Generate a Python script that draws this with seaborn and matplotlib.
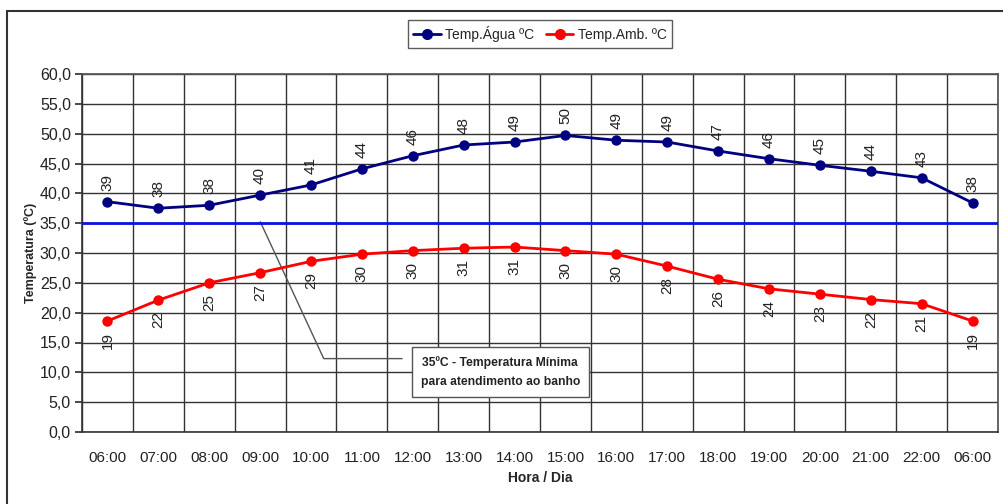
import matplotlib
matplotlib.use("Agg")
import matplotlib.pyplot as plt
import seaborn as sns
import pandas as pd
import numpy as np
from matplotlib.patches import Rectangle
from matplotlib.lines import Line2D

horas = ["06:00", "07:00", "08:00", "09:00", "10:00", "11:00", "12:00", "13:00", "14:00",
         "15:00", "16:00", "17:00", "18:00", "19:00", "20:00", "21:00", "22:00", "06:00"]
agua = [38.6, 37.5, 38.0, 39.7, 41.4, 44.1, 46.3, 48.1, 48.6, 49.7, 48.9, 48.6, 47.1, 45.8, 44.7, 43.7, 42.6, 38.4]
amb = [18.6, 22.1, 25.0, 26.7, 28.6, 29.8, 30.4, 30.8, 31.0, 30.4, 29.8, 27.8, 25.6, 24.0, 23.1, 22.2, 21.5, 18.6]
agua_lbl = [39, 38, 38, 40, 41, 44, 46, 48, 49, 50, 49, 49, 47, 46, 45, 44, 43, 38]
amb_lbl = [19, 22, 25, 27, 29, 30, 30, 31, 31, 30, 30, 28, 26, 24, 23, 22, 21, 19]
limite = 35.0
yticks = np.arange(0, 61, 5)

sns.set_theme(style="white")
plt.rcParams['font.family'] = ['Liberation Sans', 'DejaVu Sans']

fig = plt.figure(figsize=(10.04, 5.04), dpi=100)
ax = fig.add_axes([82/1004, 1 - 432/504, 916/1004, (432-74)/504])

x = np.arange(len(horas))
df = pd.DataFrame({"x": np.concatenate([x, x]),
                   "y": agua + amb,
                   "serie": ["Temp.Água ºC"] * len(x) + ["Temp.Amb. ºC"] * len(x)})
pal = {"Temp.Água ºC": "#000080", "Temp.Amb. ºC": "#ff0000"}
sns.lineplot(data=df, x="x", y="y", hue="serie", palette=pal, marker="o",
             markersize=7.5, markeredgewidth=0, linewidth=2, ax=ax, legend=False, zorder=5)

ax.axhline(limite, color="#1010e0", linewidth=2, zorder=4)

ax.set_xlim(-0.5, len(x) - 0.5)
ax.set_ylim(0, 60)
ax.set_yticks(yticks)
ax.set_yticklabels([f"{v:.1f}".replace(".", ",") for v in yticks], fontsize=11.5, color="#222222")
ax.set_xticks(x)
ax.set_xticklabels(horas, fontsize=11, color="#222222")
ax.set_xticks(np.arange(-0.5, len(x)), minor=True)
ax.tick_params(axis="x", which="major", length=0, pad=14)
ax.tick_params(axis="x", which="minor", length=5, color="#333333", direction="out")
ax.tick_params(axis="y", which="major", length=5, color="#333333", direction="out", left=True, pad=3)
ax.grid(False)
ax.grid(True, axis="y", which="major", color="#333333", linewidth=1)
ax.grid(True, axis="x", which="minor", color="#333333", linewidth=1)
for s in ["top", "right"]:
    ax.spines[s].set_visible(True)
    ax.spines[s].set_color("#555555")
for s in ["left", "bottom"]:
    ax.spines[s].set_color("#333333")
    ax.spines[s].set_linewidth(1.2)

for xi, v, l in zip(x, agua, agua_lbl):
    ax.annotate(str(l), (xi, v), xytext=(0, 8), textcoords="offset points",
                rotation=90, ha="center", va="bottom", fontsize=11, color="#222222")
for xi, v, l in zip(x, amb, amb_lbl):
    ax.annotate(str(l), (xi, v), xytext=(0, -8), textcoords="offset points",
                rotation=90, ha="center", va="top", fontsize=11, color="#222222")

ax.set_ylabel("Temperatura (ºC)", fontsize=9, fontweight="bold", labelpad=2)
ax.set_xlabel("Hora / Dia", fontsize=10, fontweight="bold", labelpad=4)

# leader line and callout
ax.plot([3.0, 4.25, 5.8], [35.3, 12.3, 12.3], color="#555555", linewidth=1, zorder=3, solid_capstyle="butt")
ax.text(7.72, 10.1, "35ºC - Temperatura Mínima\npara atendimento ao banho", ha="center", va="center",
        fontsize=8.7, fontweight="bold", color="#222222", linespacing=1.75, zorder=6,
        bbox=dict(boxstyle="square,pad=0.75", facecolor="white", edgecolor="#555555", linewidth=1))

handles = [Line2D([], [], color=pal[k], marker="o", markersize=7, linewidth=2) for k in pal]
fig.legend(handles, list(pal.keys()), loc="center", bbox_to_anchor=(540/1004, 1 - 34/504), ncol=2,
           frameon=True, fancybox=False, edgecolor="#333333", handlelength=2.0,
           handletextpad=0.3, columnspacing=0.8, borderpad=0.4, fontsize=10)

fig.patches.append(Rectangle((7/1004, -0.02), 1.05, 1 - 11/504 + 0.02, transform=fig.transFigure,
                             fill=False, edgecolor="#333333", linewidth=1.5))

fig.savefig("out.png", dpi=100, facecolor="white")
